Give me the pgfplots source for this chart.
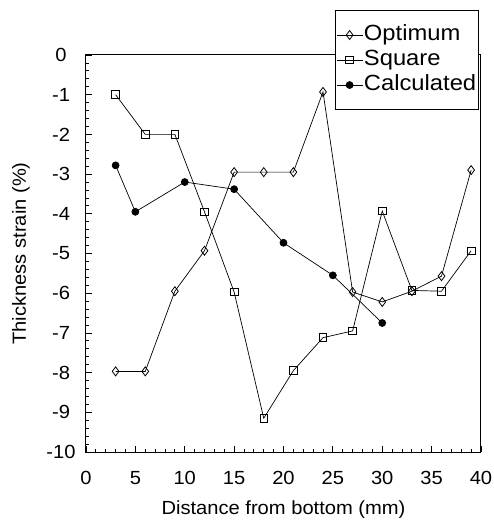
\documentclass[border=0pt]{standalone}
\usepackage{pgfplots}
\pgfplotsset{compat=1.18}
\usetikzlibrary{calc}
\usepackage{fontspec}
\setmainfont{Liberation Sans}
\newfontfamily\legfont[FakeStretch=1.08]{Liberation Sans}
\newfontfamily\labfont[FakeStretch=1.06]{Liberation Sans}
\begin{document}
\begin{tikzpicture}
\begin{axis}[
  name=ax,
  scale only axis,
  width=395pt, height=397pt,
  xmin=0, xmax=40, ymin=-10, ymax=0,
  xtick={0,5,...,40}, ytick={-10,-9,...,0},
  minor x tick num=4, minor y tick num=4,
  tick pos=left, tick align=inside,
  major tick length=6pt, minor tick length=3pt,
  axis line style={line width=1pt},
  every tick/.style={black, line width=0.8pt},
  /pgf/number format/assume math mode=true,
  tick label style={font=\labfont\fontsize{19}{22}\selectfont},
  yticklabel style={anchor=center, xshift=-25pt},
  xticklabel style={yshift=-16pt},
  label style={font=\labfont\fontsize{19}{22}\selectfont},
  xlabel={Distance from bottom (mm)},
  ylabel={Thickness strain (\%)},
  xlabel style={at={(axis description cs:0.5,0)}, anchor=north, yshift=-45pt},
  ylabel style={at={(axis description cs:-0.1646,0.5)}, anchor=center, rotate=0},
  legend style={at={(0.63,1.113)}, anchor=north west, fill=white, draw=black, line width=0.8pt,
    font=\legfont\fontsize{22}{25}\selectfont, inner xsep=1pt, inner ysep=12pt,
    nodes={inner xsep=1pt, inner ysep=2pt, text height=16pt, text depth=5pt}, row sep=0pt, column sep=0pt},
  legend cell align=left,
  legend image code/.code={\draw[mark repeat=2,mark phase=2] plot coordinates {(0pt,0pt)(13pt,0pt)(26pt,0pt)};},
  every axis plot/.append style={black, line width=0.7pt},
]
\addplot[mark=diamond, mark size=4.5pt, mark options={fill=white, solid, line width=0.8pt}] coordinates {
(3,-7.97) (6,-7.97) (9,-5.95) (12,-4.93) (15,-2.95) (18,-2.95) (21,-2.95) (24,-0.93) (27,-5.97) (30,-6.22) (33,-5.95) (36,-5.57) (39,-2.9)};
\addlegendentry{Optimum}
\addplot[mark=square, mark size=3.8pt, mark options={fill=white, solid, line width=0.8pt}] coordinates {
(3,-1.0) (6,-2.0) (9,-2.0) (12,-3.95) (15,-5.97) (18,-9.15) (21,-7.95) (24,-7.12) (27,-6.95) (30,-3.93) (33,-5.93) (36,-5.95) (39,-4.93)};
\addlegendentry{Square}
\addplot[mark=*, mark size=3.5pt, mark options={fill=black, solid}] coordinates {
(3,-2.78) (5,-3.95) (10,-3.2) (15,-3.38) (20,-4.73) (25,-5.55) (30,-6.75)};
\addlegendentry{Calculated}
\end{axis}
\pgfresetboundingbox
\path[use as bounding box] ($(ax.south west)+(-86pt,-73pt)$) rectangle ($(ax.north east)+(13pt,55pt)$);
\end{tikzpicture}
\end{document}
